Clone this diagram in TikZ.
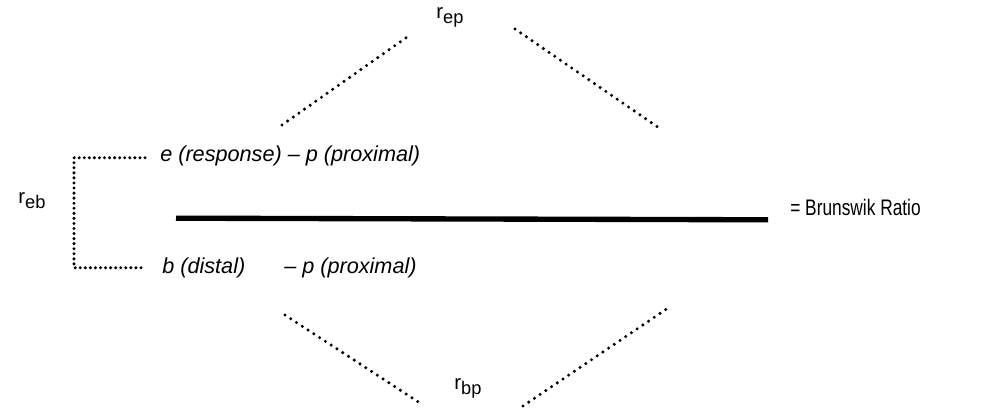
\documentclass[tikz,border=0pt]{standalone}
\usepackage{fontspec}
\setmainfont{Liberation Sans}
\newfontfamily\narrowfont[FakeStretch=0.77]{Liberation Sans}
\usepackage{tikz}
\usetikzlibrary{positioning, calc}

\newcommand{\corr}[1]{\fontsize{14.5}{16}\selectfont r{\fontsize{13}{14}\selectfont\raisebox{-3.5pt}{#1}}}

\begin{document}
\begin{tikzpicture}[
    dotline/.style={line width=2.4pt, line cap=round, dash pattern=on 0pt off 4.9pt},
    lbl/.style={inner sep=0pt},
    term/.style={lbl, font=\fontsize{15.4}{17}\selectfont\itshape, anchor=west}
]
    \useasboundingbox (0,0) rectangle (24.7,10.225);

    % Correlation labels
    \node[lbl] (rep) at (11.25,9.78) {\corr{ep}};
    \node[lbl] (reb) at (0.8,5.22) {\corr{eb}};
    \node[lbl] (rbp) at (11.7,0.52) {\corr{bp}};

    % Numerator and denominator
    \node[term] (eprox) at (4.0,6.32) {e (response) -- p (proximal)};
    \node[term] (bdist) at (4.05,3.52) {b (distal)};
    \node[term] (bprox) at (7.1,3.52) {-- p (proximal)};

    % Fraction bar
    \coordinate (barL) at (4.4,4.77);
    \coordinate (barR) at (19.2,4.73);
    \draw[line width=3.8pt] (barL) -- (barR);
    \node[lbl, anchor=west, font=\narrowfont\fontsize{16}{18}\selectfont] (ratio) at (19.75,5.03) {= Brunswik Ratio};

    % Bracket for r_eb
    \coordinate (brT) at (3.625,6.28);
    \coordinate (brB) at (3.625,3.53);
    \draw[dotline, dash pattern=on 0pt off 3.6pt] (brT) -- (1.85,6.28) -- (1.85,3.53) -- (brB);

    % Upper dotted lines
    \coordinate (ul1) at (7.05,7.1);
    \coordinate (ul2) at (10.25,9.35);
    \coordinate (ur1) at (12.875,9.5);
    \coordinate (ur2) at (16.55,6.975);
    \draw[dotline] (ul1) -- (ul2);
    \draw[dotline] (ur1) -- (ur2);

    % Lower dotted lines
    \coordinate (ll1) at (7.125,2.35);
    \coordinate (ll2) at (10.575,0.1);
    \coordinate (lr1) at (13.075,0.075);
    \coordinate (lr2) at (16.7,2.525);
    \draw[dotline] (ll1) -- (ll2);
    \draw[dotline] (lr1) -- (lr2);
\end{tikzpicture}
\end{document}
